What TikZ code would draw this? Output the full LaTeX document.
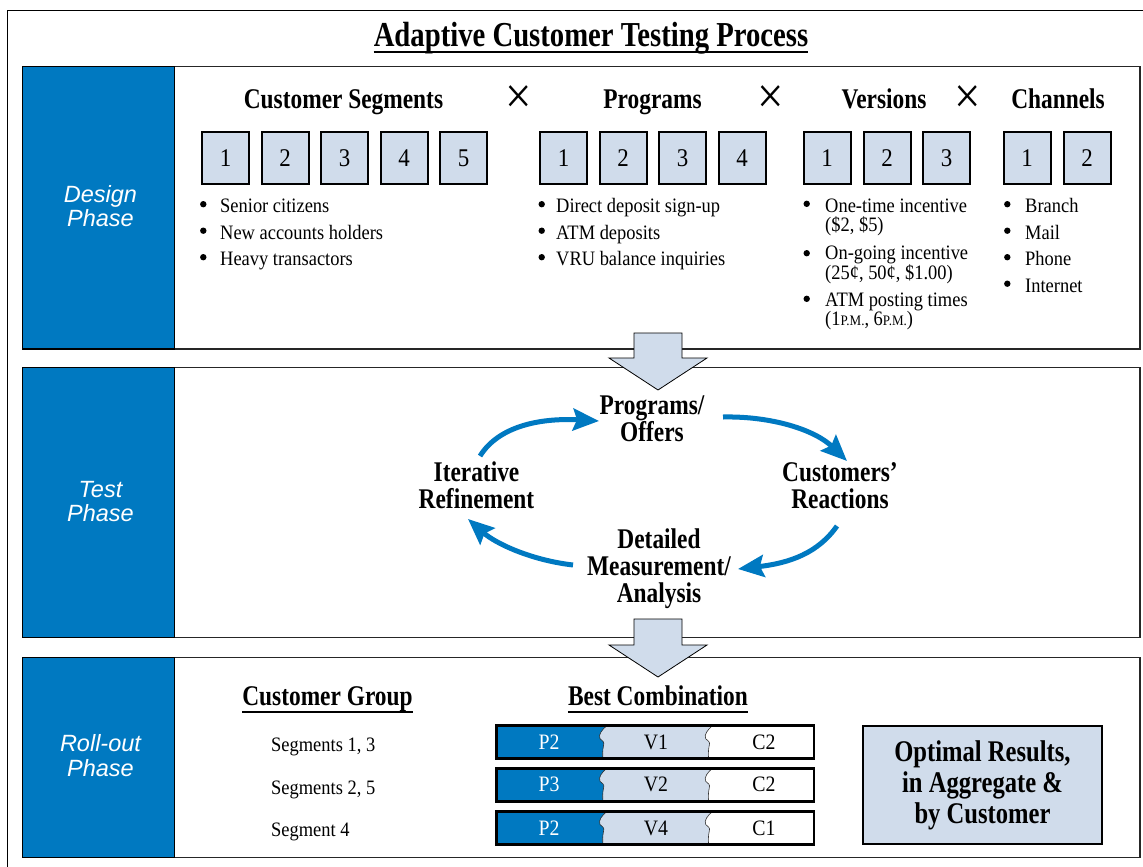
\documentclass[tikz,border=0pt]{standalone}
\usepackage{fontspec}
\setmainfont{Liberation Serif}
\newfontfamily\serR[FakeStretch=0.9]{Liberation Serif}
\newfontfamily\serB[FakeStretch=0.82]{Liberation Serif}
\newfontfamily\phsf{Liberation Sans}
\usetikzlibrary{arrows.meta}
\definecolor{cblue}{RGB}{0,121,193}
\definecolor{clight}{RGB}{208,220,235}
\newcommand\fs[2]{\fontsize{#1}{#2}\selectfont}
% torn edge between two cells of a combination bar (bar height 33)
\newcommand\wv[1]{.. controls (#1-4.7,4) and (#1-8.7,9) .. (#1-6.7,13) .. controls (#1-4.7,15) and (#1-1.7,16) .. (#1-3.2,20) .. controls (#1-4.2,24) and (#1-4.2,30) .. (#1-3.7,33)}
% one combination bar: #1 top y, #2 #3 #4 labels, #5 name prefix
\newcommand\combobar[5]{%
  \begin{scope}[shift={(0,#1)}]
    \fill[white] (496.7,0) rectangle (814,33);
    \fill[clight] (606.7,0) \wv{606.7} -- (814,33) -- (814,0) -- cycle;
    \fill[white] (712.4,0) \wv{712.4} -- (814,33) -- (814,0) -- cycle;
    \fill[cblue] (496.7,0) -- (606.7,0) \wv{606.7} -- (496.7,33) -- cycle;
    \draw[line width=0.6pt, black!80] (606.7,0) \wv{606.7};
    \draw[line width=0.6pt, black!80] (712.4,0) \wv{712.4};
    \draw[line width=2.6pt] (496.7,0) rectangle (814,33);
    \node[cell, text=white] (#5p) at (549,16.5) {#2};
    \node[cell] (#5v) at (656,16.5) {#3};
    \node[cell] (#5c) at (764,16.5) {#4};
  \end{scope}}
\begin{document}
\begin{tikzpicture}[x=1pt,y=-1pt,
  head/.style={font=\serB\bfseries\fs{28.5}{27}, anchor=base, inner sep=0},
  uhead/.style={head, text depth=7pt},
  timessign/.style={font=\serR\fs{52}{52}, inner sep=0},
  item/.style={font=\serR\fs{20.5}{18.7}, anchor=base west, inner sep=0, align=left},
  numbox/.style={draw=black, line width=2pt, fill=clight, minimum width=47pt,
    minimum height=52pt, inner sep=0, font=\serR\fs{25.5}{25}},
  phase/.style={font=\phsf\itshape\fs{23.5}{24.5}, text=white, align=center,
    anchor=base, inner sep=0},
  panel/.style={draw=black!85, line width=1.4pt, fill=white},
  phasecol/.style={draw=black, line width=1.2pt, fill=cblue},
  cyclabel/.style={font=\serB\bfseries\fs{28.5}{27}, align=center, anchor=base, inner sep=0},
  cyc/.style={draw=cblue, line width=5pt, line cap=butt,
    -{Stealth[length=26pt,width=22pt,inset=4pt]}},
  bigarrow/.style={draw=black, line width=0.8pt, fill=clight},
  cell/.style={font=\serR\fs{22}{22}, inner sep=0},
  dot/.style={fill=black}]
\useasboundingbox (0,0) rectangle (1143,867);
\clip (0,0) rectangle (1143,867);
\fill[white] (0,0) rectangle (1143,867);

% outer frame
\draw[line width=1.3pt] (7.5,880) -- (7.5,10.5) -- (1160,10.5);

% title
\node[font=\serB\bfseries\fs{35}{35}, anchor=base, inner sep=0, text depth=5.5pt]
  (title) at (591,46.7) {Adaptive Customer Testing Process};
\draw[line width=1.8pt] (title.south west) -- (title.south east);

% phase panels
\draw[panel] (22.5,66.5) rectangle (1140,349);
\draw[phasecol] (22.5,66.5) rectangle (174.5,349);
\draw[panel] (22.5,367.7) rectangle (1140,637.7);
\draw[phasecol] (22.5,367.7) rectangle (174.5,637.7);
\draw[panel] (22.5,657.3) rectangle (1140,857.7);
\draw[phasecol] (22.5,657.3) rectangle (174.5,857.7);

% multi-line labels are placed by the baseline of their last line
\node[phase] (design) at (100.5,226.5) {Design\\Phase};
\node[phase] (test) at (100.5,521.5) {Test\\Phase};
\node[phase] (rollout) at (100.5,776) {Roll-out\\Phase};

% ---------- design phase ----------
\node[head] (hseg) at (343.5,108.5) {Customer Segments};
\node[timessign] (x1) at (519,100) {×};
\node[head] (hprog) at (652.5,108.5) {Programs};
\node[timessign] (x2) at (771,100) {×};
\node[head] (hver) at (884,108.5) {Versions};
\node[timessign] (x3) at (968,100) {×};
\node[head] (hch) at (1058,108.5) {Channels};

\foreach \i/\x in {1/225.5,2/285,3/344.5,4/404,5/463.5}
  \node[numbox] (s\i) at (\x,158) {\i};
\foreach \i/\x in {1/563.5,2/623,3/682.5,4/742}
  \node[numbox] (p\i) at (\x,158) {\i};
\foreach \i/\x in {1/827,2/887,3/946.5}
  \node[numbox] (v\i) at (\x,158) {\i};
\foreach \i/\x in {1/1027,2/1087}
  \node[numbox] (c\i) at (\x,158) {\i};

% bullet lists
\foreach \t/\y [count=\k] in {Senior citizens/212.7, New accounts holders/239.2, Heavy transactors/265.7}{
  \fill[dot] (203.3,\y-8.5) circle (3.2pt);
  \node[item] (sg\k) at (220,\y) {\t};}
\foreach \t/\y [count=\k] in {Direct deposit sign-up/212.7, ATM deposits/239.2, VRU balance inquiries/265.7}{
  \fill[dot] (541.7,\y-8.5) circle (3.2pt);
  \node[item] (pg\k) at (556,\y) {\t};}
\foreach \t/\y [count=\k] in {Branch/212.7, Mail/239.2, Phone/265.7, Internet/292.2}{
  \fill[dot] (1007.3,\y-8.5) circle (3.2pt);
  \node[item] (ch\k) at (1025,\y) {\t};}
\fill[dot] (806.7,212.3-8.5) circle (3.2pt);
\node[item] (vr1) at (825,231) {One-time incentive\\(\$2, \$5)};
\fill[dot] (806.7,261.7-8.5) circle (3.2pt);
\node[item] (vr2) at (825,279.3) {On-going incentive\\(25¢, 50¢, \$1.00)};
\fill[dot] (806.7,307.3-8.5) circle (3.2pt);
\node[item] (vr3) at (825,325) {ATM posting times\\(1{\fs{14.5}{14.5}P.M.}, 6{\fs{14.5}{14.5}P.M.})};

% ---------- test phase ----------
\node[cyclabel] (offers) at (652,441.7) {Programs/\\Offers};
\node[cyclabel] (react) at (840,508.3) {Customers’\\Reactions};
\node[cyclabel] (measure) at (659,602.7) {Detailed\\Measurement/\\Analysis};
\node[cyclabel] (refine) at (476.5,508.3) {Iterative\\Refinement};

\coordinate (a1s) at (480,456);   \coordinate (a1e) at (599,421);
\coordinate (a2s) at (723,417);   \coordinate (a2e) at (847,461);
\coordinate (a3s) at (837,526);   \coordinate (a3e) at (738,569);
\coordinate (a4s) at (573,565);   \coordinate (a4e) at (468,519);
\draw[cyc] (a1s) .. controls (500,424) and (545,418) .. (a1e);
\draw[cyc] (a2s) .. controls (772,416) and (815,430) .. (a2e);
\draw[cyc] (a3s) .. controls (818,553) and (790,563) .. (a3e);
\draw[cyc] (a4s) .. controls (530,560) and (495,543) .. (a4e);

% ---------- roll-out phase ----------
\node[uhead] (cgroup) at (327.5,705) {Customer Group};
\draw[line width=1.5pt] (cgroup.south west) -- (cgroup.south east);
\node[uhead] (bestc) at (658,705) {Best Combination};
\draw[line width=1.5pt] (bestc.south west) -- (bestc.south east);

\node[item] (g1) at (271,751) {Segments 1, 3};
\node[item] (g2) at (271,794) {Segments 2, 5};
\node[item] (g3) at (271,836.5) {Segment 4};

\combobar{725.7}{P2}{V1}{C2}{b1}
\combobar{768.3}{P3}{V2}{C2}{b2}
\combobar{811.5}{P2}{V4}{C1}{b3}

\node[draw=black, line width=2.6pt, fill=clight, minimum width=239pt, minimum height=118pt,
  inner sep=0] (optbox) at (982.5,785) {};
\node[cyclabel, font=\serB\bfseries\fs{30}{31}] (opt) at (982.5,823.3)
  {Optimal Results,\\in Aggregate \&\\by Customer};

% ---------- block arrows between phases ----------
\draw[bigarrow] (634,333) -- (682,333) -- (682,358) -- (707,358) -- (658,390)
  -- (609,358) -- (634,358) -- cycle;
\draw[bigarrow] (634,619) -- (682,619) -- (682,645) -- (707,645) -- (658,677)
  -- (609,645) -- (634,645) -- cycle;
\end{tikzpicture}
\end{document}
